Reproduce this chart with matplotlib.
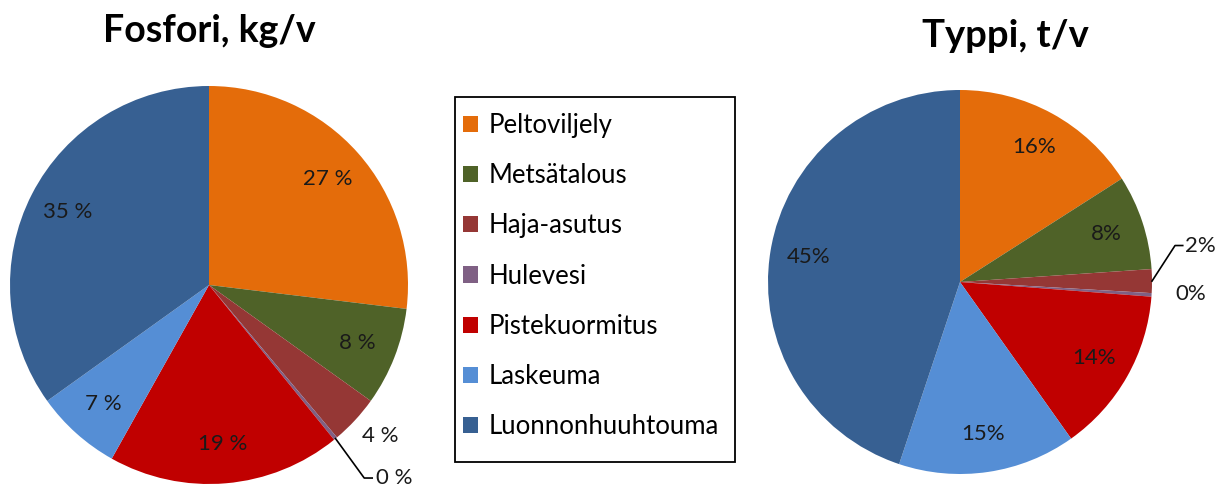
import numpy as np
import matplotlib.pyplot as plt
from matplotlib.patches import Rectangle

plt.rcParams['font.family'] = ['Lato', 'DejaVu Sans']

# lähteet ja osuudet (%)
sources = ['Peltoviljely', 'Metsätalous', 'Haja-asutus', 'Hulevesi',
           'Pistekuormitus', 'Laskeuma', 'Luonnonhuuhtouma']
fosfori = [27, 8, 4, 0.3, 19, 7, 35]
typpi = [16, 8, 2, 0.3, 14, 15, 45]
colors = ['#E46C0A', '#4F6228', '#953735', '#7F6084',
          '#C00000', '#558ED5', '#376092']

fig = plt.figure(figsize=(12.25, 4.86), dpi=100)
W, H = 1225, 486
LBL = 16


def pie_axes(cx, cy, r):
    # pixel-keskipiste ja säde -> axes-paikka
    return fig.add_axes([(cx - r) / W, (H - cy - r) / H, 2 * r / W, 2 * r / H])


def mid_angles(vals):
    v = np.array(vals, dtype=float)
    frac = v / v.sum()
    cum = np.cumsum(frac) - frac / 2
    return np.deg2rad(90 - 360 * cum)


def draw_pie(ax, vals, sep, skip):
    wedges, _ = ax.pie(vals, colors=colors, startangle=90, counterclock=False,
                       radius=1, wedgeprops=dict(linewidth=0))
    ax.set_xlim(-1, 1)
    ax.set_ylim(-1, 1)
    ax.set_aspect('auto')
    ang = mid_angles(vals)
    for i, v in enumerate(vals):
        if i in skip:
            continue
        ax.text(0.8 * np.cos(ang[i]), 0.8 * np.sin(ang[i]), f"{v:.0f}{sep}%",
                ha='center', va='center', fontsize=LBL, color='#1a1a1a')
    return wedges, ang


# --- Fosfori ---
ax1 = pie_axes(209, 285, 199)
wedges, ang = draw_pie(ax1, fosfori, ' ', skip=[2, 3])
ax1.text(0.86, -0.76, f"{fosfori[2]:.0f} %", ha='center', va='center',
         fontsize=LBL, color='#1a1a1a')
x0, y0 = np.cos(ang[3]), np.sin(ang[3])
ax1.plot([x0, 0.78, 0.82], [y0, -0.97, -0.97], color='black', lw=1.2, clip_on=False)
ax1.text(0.84, -0.97, f"{fosfori[3]:.0f} %", ha='left', va='center',
         fontsize=LBL, color='#1a1a1a')
fig.text(209 / W, 1 - 31 / H, 'Fosfori, kg/v', ha='center', va='center',
         fontsize=27, fontweight='bold')

# --- Typpi ---
ax2 = pie_axes(960, 282, 192)
_, ang2 = draw_pie(ax2, typpi, '', skip=[2, 3])
x0, y0 = np.cos(ang2[2]), np.sin(ang2[2])
ax2.plot([x0, 1.12, 1.16], [y0, 0.19, 0.19], color='black', lw=1.2, clip_on=False)
ax2.text(1.17, 0.19, f"{typpi[2]:.0f}%", ha='left', va='center',
         fontsize=LBL, color='#1a1a1a')
ax2.text(1.2, -0.06, f"{typpi[3]:.0f}%", ha='center', va='center',
         fontsize=LBL, color='#1a1a1a')
fig.text(1005 / W, 1 - 36 / H, 'Typpi, t/v', ha='center', va='center',
         fontsize=27.5, fontweight='bold')

# --- selite ---
fs = 18.5
leg = fig.legend(wedges, sources, loc='upper left',
                 bbox_to_anchor=(463 / W, 1 - 113 / H), bbox_transform=fig.transFigure,
                 fontsize=fs, frameon=False,
                 handlelength=0.6, handleheight=0.6, handletextpad=0.4,
                 labelspacing=0.98, borderpad=0, borderaxespad=0)
fig.patches.append(Rectangle((455 / W, 1 - 462 / H), 280 / W, 365 / H,
                             transform=fig.transFigure, fill=False,
                             edgecolor='black', linewidth=1.3))

plt.savefig('out.png', dpi=100)
